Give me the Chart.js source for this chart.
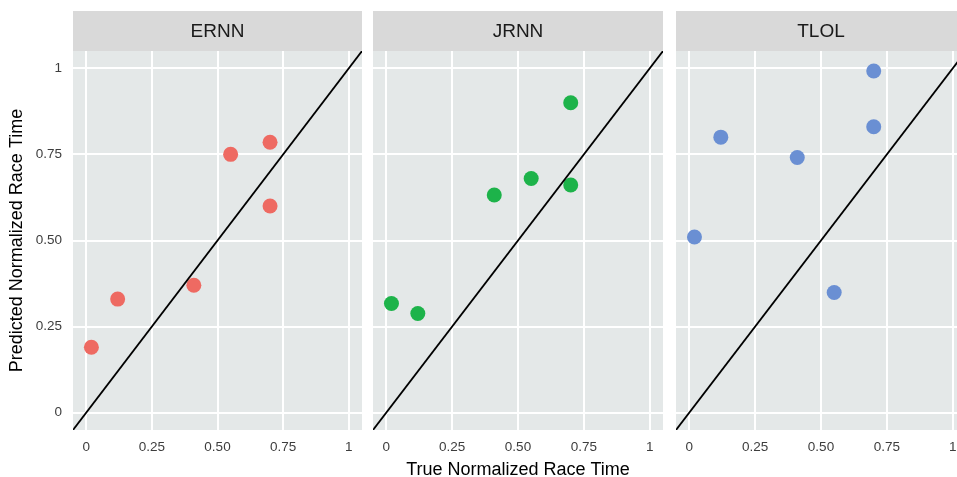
<!DOCTYPE html>
<html>
<head>
<meta charset="utf-8">
<script src="https://cdn.jsdelivr.net/npm/chart.js@4"></script>
<style>
  html, body { margin: 0; padding: 0; background: #ffffff; overflow: hidden; }
  body { width: 957px; height: 477px; position: relative; }
  .pane { position: absolute; top: 0; height: 477px; }
</style>
</head>
<body>
<div class="pane" id="p1" style="left:0px;width:363px;"><canvas id="c1"></canvas></div>
<div class="pane" id="p2" style="left:373px;width:291px;"><canvas id="c2"></canvas></div>
<div class="pane" id="p3" style="left:676px;width:291px;"><canvas id="c3"></canvas></div>
<script>
// ---- data ----
const panelNames = ["ERNN", "JRNN", "TLOL"];
const trueTime = [0.02, 0.12, 0.41, 0.55, 0.70, 0.70];
const ernnPred = [0.19, 0.33, 0.37, 0.75, 0.785, 0.60];
const jrnnPred = [0.317, 0.288, 0.632, 0.68, 0.90, 0.661];
const tlolPred = [0.51, 0.80, 0.741, 0.349, 0.992, 0.83];
const tickValues = [0, 0.25, 0.5, 0.75, 1];
const tickLabels = ["0", "0.25", "0.50", "0.75", "1"];
const identityLine = [-0.05, 1.05];
const axisRange = [-0.05, 1.05];
const xTitle = "True Normalized Race Time";
const yTitle = "Predicted Normalized Race Time";
const colors = ["#EE6A62", "#1DB34A", "#6A8FD3"];
const preds = [ernnPred, jrnnPred, tlolPred];

const FONT = "'Liberation Sans', Arial, Helvetica, sans-serif";

const panelPlugin = {
  id: 'panelDeco',
  beforeDraw(chart, args, opts) {
    const {ctx, chartArea: a} = chart;
    ctx.save();
    ctx.fillStyle = '#E4E8E8';
    ctx.fillRect(a.left, a.top, a.right - a.left, a.bottom - a.top);
    ctx.fillStyle = '#D9D9D9';
    ctx.fillRect(a.left, a.top - 40, a.right - a.left, 40);
    ctx.fillStyle = '#1a1a1a';
    ctx.font = '19px ' + FONT;
    ctx.textAlign = 'center';
    ctx.textBaseline = 'middle';
    ctx.fillText(opts.label, (a.left + a.right) / 2, a.top - 19);
    ctx.restore();
  }
};

function zeroPad(s) {
  s.paddingLeft = 0; s.paddingRight = 0; s.paddingTop = 0; s.paddingBottom = 0;
}

function makeChart(id, idx) {
  const first = idx === 0;
  const middle = idx === 1;
  const pts = trueTime.map((x, i) => ({x: x, y: preds[idx][i]}));
  const line = identityLine.map(v => ({x: v, y: v}));
  return new Chart(document.getElementById(id), {
    type: 'scatter',
    data: {
      datasets: [
        {
          label: 'identity',
          data: line,
          showLine: true,
          borderColor: '#000000',
          borderWidth: 1.8,
          pointRadius: 0,
          order: 0
        },
        {
          label: panelNames[idx],
          data: pts,
          backgroundColor: colors[idx],
          borderWidth: 0,
          pointRadius: 7.5,
          pointHoverRadius: 7.5,
          order: 1
        }
      ]
    },
    options: {
      responsive: true,
      maintainAspectRatio: false,
      animation: false,
      events: [],
      layout: { autoPadding: false, padding: { top: 51, right: 1, left: 0, bottom: 0 } },
      plugins: {
        legend: { display: false },
        tooltip: { enabled: false },
        panelDeco: { label: panelNames[idx] }
      },
      scales: {
        x: {
          type: 'linear',
          min: axisRange[0],
          max: axisRange[1],
          afterBuildTicks: s => { s.ticks = tickValues.map(v => ({value: v})); },
          afterFit: s => { s.height = 47; zeroPad(s); },
          border: { display: false },
          grid: { color: '#FFFFFF', lineWidth: 2, drawTicks: false },
          ticks: {
            padding: 9,
            color: '#3d3d3d',
            font: { family: FONT, size: 13.5 },
            maxRotation: 0,
            autoSkip: false,
            callback: (v) => { const k = tickValues.indexOf(v); return k >= 0 ? tickLabels[k] : ''; }
          },
          title: {
            display: middle,
            text: xTitle,
            color: '#000000',
            font: { family: FONT, size: 18, lineHeight: 0.8 },
            padding: { top: 0, bottom: 0 }
          }
        },
        y: {
          type: 'linear',
          min: axisRange[0],
          max: axisRange[1],
          afterBuildTicks: s => { s.ticks = tickValues.map(v => ({value: v})); },
          afterFit: s => { s.width = first ? 73 : 0; zeroPad(s); },
          border: { display: false },
          grid: { color: '#FFFFFF', lineWidth: 2, drawTicks: false },
          ticks: {
            display: first,
            padding: 11,
            color: '#3d3d3d',
            font: { family: FONT, size: 13.5 },
            callback: (v) => { const k = tickValues.indexOf(v); return k >= 0 ? tickLabels[k] : ''; }
          },
          title: {
            display: first,
            text: yTitle,
            color: '#000000',
            font: { family: FONT, size: 18 },
            padding: { top: 6, bottom: 0 }
          }
        }
      }
    },
    plugins: [panelPlugin]
  });
}

makeChart('c1', 0);
makeChart('c2', 1);
makeChart('c3', 2);
</script>
</body>
</html>
